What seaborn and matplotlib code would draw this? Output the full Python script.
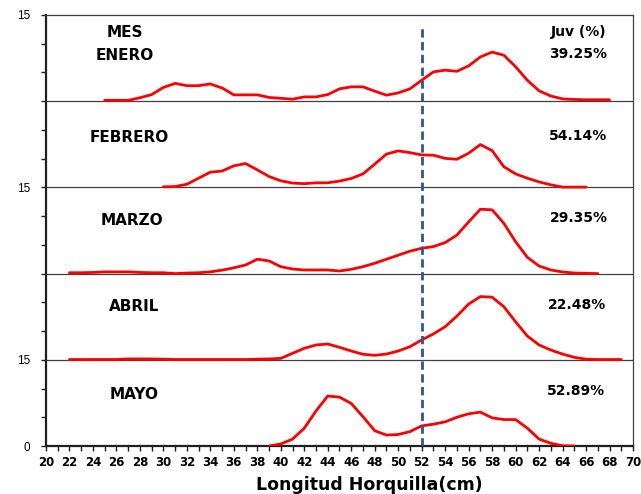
import numpy as np
import pandas as pd
import seaborn as sns
import matplotlib
matplotlib.use("Agg")
import matplotlib.pyplot as plt
from matplotlib.ticker import MultipleLocator

# longitud horquilla (cm) y frecuencia (%) por mes
enero_x = list(range(25, 69))
enero_y = [0.15, 0.15, 0.15, 0.6, 1.15, 2.4, 3.1, 2.7, 2.7, 3.0,
           2.3, 1.1, 1.1, 1.1, 0.65, 0.5, 0.35, 0.75, 0.75, 1.15,
           2.15, 2.5, 2.5, 1.75, 1.05, 1.45, 2.15, 3.65, 5.1, 5.4,
           5.2, 6.15, 7.7, 8.55, 8.0, 6.0, 3.65, 1.8, 0.9, 0.4,
           0.3, 0.25, 0.25, 0.25]

febrero_x = list(range(30, 67))
febrero_y = [0.1, 0.15, 0.55, 1.6, 2.65, 2.85, 3.75, 4.15, 3.05, 1.9,
             1.15, 0.75, 0.65, 0.8, 0.8, 1.1, 1.55, 2.35, 4.05, 5.8,
             6.35, 6.05, 5.65, 5.6, 5.05, 4.9, 5.95, 7.45, 6.4, 3.6,
             2.35, 1.6, 0.95, 0.45, 0.05, 0.05, 0.05]

marzo_x = list(range(22, 68))
marzo_y = [0.15, 0.15, 0.2, 0.3, 0.3, 0.3, 0.2, 0.15, 0.15, 0.0,
           0.1, 0.15, 0.3, 0.6, 1.0, 1.5, 2.5, 2.2, 1.2, 0.8,
           0.63, 0.63, 0.63, 0.45, 0.75, 1.2, 1.8, 2.5, 3.2, 3.9,
           4.4, 4.7, 5.4, 6.7, 9.0, 11.2, 11.1, 8.75, 5.55, 2.84,
           1.32, 0.63, 0.28, 0.1, 0.05, 0.0]

abril_x = list(range(22, 70))
abril_y = [0.05, 0.05, 0.05, 0.05, 0.05, 0.15, 0.15, 0.15, 0.1, 0.05,
           0.05, 0.05, 0.05, 0.05, 0.05, 0.05, 0.1, 0.15, 0.25, 1.13,
           2.0, 2.58, 2.75, 2.17, 1.53, 0.96, 0.78, 1.0, 1.53, 2.28,
           3.45, 4.5, 5.76, 7.6, 9.7, 11.0, 10.9, 9.24, 6.6, 4.14,
           2.58, 1.7, 1.0, 0.43, 0.1, 0.05, 0.05, 0.05]

mayo_x = list(range(39, 66))
mayo_y = [0.0, 0.35, 1.2, 3.1, 6.1, 8.7, 8.5, 7.4, 5.1, 2.66,
          1.9, 2.0, 2.5, 3.5, 3.8, 4.2, 5.0, 5.6, 5.9, 4.9,
          4.6, 4.6, 3.1, 1.2, 0.47, 0.05, 0.0]

meses = ["ENERO", "FEBRERO", "MARZO", "ABRIL", "MAYO"]
juv = ["39.25%", "54.14%", "29.35%", "22.48%", "52.89%"]
desplazamiento = [60, 45, 30, 15, 0]
talla_corte = 52


def armar_tabla():
    series = [(enero_x, enero_y), (febrero_x, febrero_y), (marzo_x, marzo_y),
              (abril_x, abril_y), (mayo_x, mayo_y)]
    partes = []
    for mes, off, (xs, ys) in zip(meses, desplazamiento, series):
        partes.append(pd.DataFrame({"mes": mes, "longitud": xs,
                                    "freq": np.array(ys) + off}))
    return pd.concat(partes, ignore_index=True)


def main():
    sns.set_style("ticks")
    plt.rcParams["font.family"] = ["Liberation Sans", "DejaVu Sans"]
    plt.rcParams["text.color"] = "black"

    df = armar_tabla()
    fig = plt.figure(figsize=(6.41, 4.94), dpi=100)
    ax = fig.add_axes([46 / 641, 48 / 494, 587 / 641, 431 / 494])

    # lineas base de cada mes
    for off in desplazamiento[:-1]:
        ax.axhline(off, color="#404040", lw=0.9, zorder=1)

    sns.lineplot(data=df, x="longitud", y="freq", units="mes", estimator=None,
                 color="#FF0000", lw=2.0, ax=ax, zorder=3)

    ax.axvline(talla_corte, ymin=0, ymax=0.975, color="#2F5597", lw=2.0,
               ls=(0, (3, 1.6)), zorder=4)

    ax.set_xlim(20, 70)
    ax.set_ylim(0, 75)
    ax.xaxis.set_major_locator(MultipleLocator(1))
    ax.set_xticklabels([str(int(v)) if int(v) % 2 == 0 else ""
                        for v in ax.get_xticks()], fontweight="bold",
                       fontsize=8.5, family="DejaVu Sans")
    ax.set_yticks(range(0, 80, 5))
    ax.set_yticklabels(["0" if v == 0 else ("15" if v in (15, 45, 75) else "")
                        for v in range(0, 80, 5)], fontsize=8.5)
    ax.tick_params(direction="out", length=3.5, width=1.0, colors="#202020",
                   labelcolor="black")
    ax.tick_params(axis="y", pad=8)
    ax.set_xlabel("")
    ax.set_ylabel("")

    for side in ["left", "bottom"]:
        ax.spines[side].set_linewidth(1.6)
        ax.spines[side].set_color("#202020")
    for side in ["top", "right"]:
        ax.spines[side].set_visible(True)
        ax.spines[side].set_linewidth(0.9)
        ax.spines[side].set_color("#404040")

    # nombres de los meses y porcentaje de juveniles
    kw = dict(fontweight="bold", ha="center", va="center", family="DejaVu Sans")
    ax.text(26.7, 72, "MES", fontsize=11, **kw)
    pos_mes = [(26.7, 68.0), (27.1, 53.6), (27.3, 39.3), (27.5, 24.3), (27.5, 9.0)]
    for mes, (px, py) in zip(meses, pos_mes):
        ax.text(px, py, mes, fontsize=11, **kw)
    ax.text(65.4, 72, "Juv (%)", fontsize=10, **kw)
    pos_juv = [(65.3, 68.2), (65.3, 54.0), (65.4, 39.6), (65.2, 24.6), (65.1, 9.6)]
    for txt, (px, py) in zip(juv, pos_juv):
        ax.text(px, py, txt, fontsize=10, **kw)

    fig.text(369 / 641, 1 - 485 / 494, "Longitud Horquilla(cm)", fontsize=12.5,
             fontweight="bold", ha="center", va="center", family="DejaVu Sans")

    fig.savefig("out.png", dpi=100)


if __name__ == "__main__":
    main()
